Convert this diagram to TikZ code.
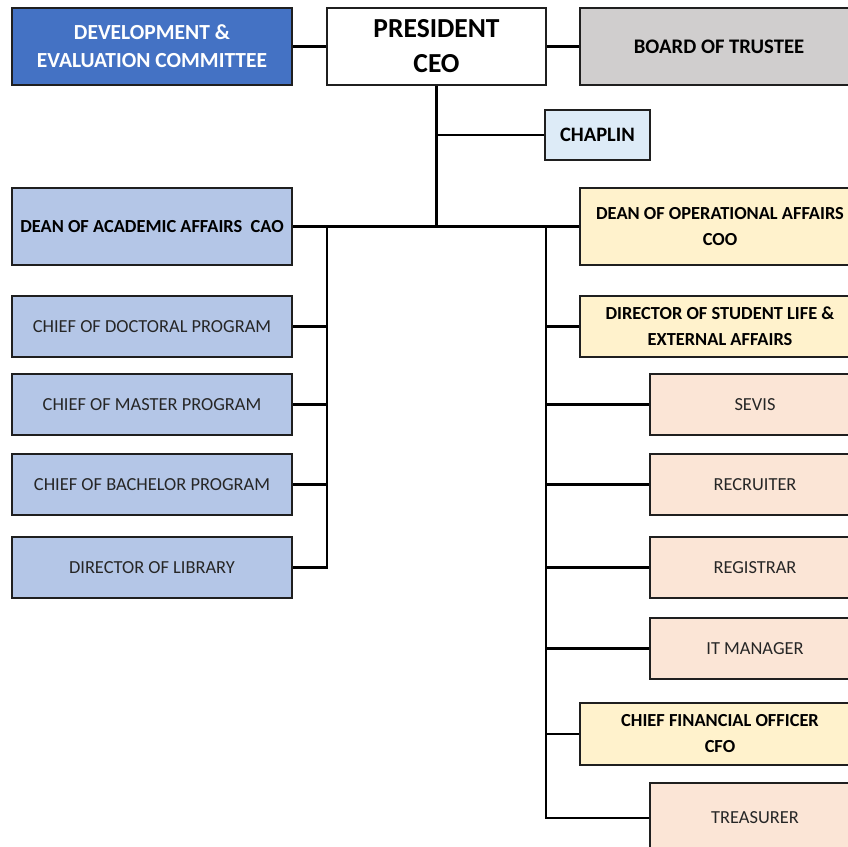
\documentclass[tikz,border=0pt]{standalone}
\usepackage{fontspec}
\setmainfont{Carlito}
\definecolor{devblue}{HTML}{4472C4}
\definecolor{lblue}{HTML}{B4C6E7}
\definecolor{chapl}{HTML}{DDEBF7}
\definecolor{bgray}{HTML}{D0CECE}
\definecolor{lyel}{HTML}{FFF2CC}
\definecolor{lpink}{HTML}{FBE5D6}
\definecolor{txt}{HTML}{262626}
\begin{document}
\begin{tikzpicture}[x=1pt,y=-1pt,
  box/.style={draw=black!88, line width=2.4pt, inner sep=0pt, align=center, font=\fontsize{18.4}{26}\selectfont, text=txt},
  bbox/.style={box, font=\fontsize{18.4}{26}\selectfont\bfseries, text=black},
  con/.style={line width=2.2pt, black}]
\useasboundingbox (0,0) rectangle (848,846);
\clip (0,0) rectangle (848,846);
\fill[white] (0,0) rectangle (848,846);
% top row
\node[bbox, fill=devblue, text=white, font=\fontsize{21.5}{28}\selectfont\bfseries, minimum width=280, minimum height=77] (dev) at (152,46.5) {DEVELOPMENT \&\\EVALUATION COMMITTEE};
\node[box, fill=white, text=black, font=\fontsize{27.5}{35}\selectfont\bfseries, minimum width=219, minimum height=77] (pres) at (436.5,46.5) {PRESIDENT\\CEO};
\node[bbox, fill=bgray, font=\fontsize{20.7}{26}\selectfont\bfseries, minimum width=278, minimum height=77] (board) at (719,46.5) {BOARD OF TRUSTEE};
\node[bbox, fill=chapl, font=\fontsize{20.5}{26}\selectfont\bfseries, minimum width=105, minimum height=50] (chap) at (597.5,135) {CHAPLIN};
% left column
\node[bbox, fill=lblue, minimum width=280, minimum height=77] (cao) at (152,226.5) {DEAN OF ACADEMIC AFFAIRS\ \ CAO};
\node[box, fill=lblue, minimum width=280, minimum height=61] (doc) at (152,326.5) {CHIEF OF DOCTORAL PROGRAM};
\node[box, fill=lblue, minimum width=280, minimum height=61] (mas) at (152,404.5) {CHIEF OF MASTER PROGRAM};
\node[box, fill=lblue, minimum width=280, minimum height=61] (bac) at (152,484.5) {CHIEF OF BACHELOR PROGRAM};
\node[box, fill=lblue, minimum width=280, minimum height=61] (lib) at (152,567.5) {DIRECTOR OF LIBRARY};
% right column
\node[bbox, fill=lyel, minimum width=280, minimum height=77] (coo) at (720,226.5) {DEAN OF OPERATIONAL AFFAIRS\\COO};
\node[bbox, fill=lyel, minimum width=280, minimum height=61] (dsl) at (720,326.5) {DIRECTOR OF STUDENT LIFE \&\\EXTERNAL AFFAIRS};
\node[box, fill=lpink, minimum width=210, minimum height=61] (sev) at (755,404.5) {SEVIS};
\node[box, fill=lpink, minimum width=210, minimum height=61] (rec) at (755,484.5) {RECRUITER};
\node[box, fill=lpink, minimum width=210, minimum height=61] (reg) at (755,567.5) {REGISTRAR};
\node[box, fill=lpink, minimum width=210, minimum height=61] (itm) at (755,648.5) {IT MANAGER};
\node[bbox, fill=lyel, minimum width=280, minimum height=62] (cfo) at (720,734) {CHIEF FINANCIAL OFFICER\\CFO};
\node[box, fill=lpink, minimum width=210, minimum height=70] (tre) at (755,818) {TREASURER};
% junction coordinates
\coordinate (jc) at (pres.south |- cao.east);
\coordinate (jchap) at (pres.south |- chap.west);
\coordinate (jl) at (327,226.5);
\coordinate (jr) at (546,226.5);
% connectors
\draw[con] (dev.east) -- (pres.west);
\draw[con] (pres.east) -- (board.west);
\draw[con] (pres.south) -- (jc);
\draw[con] (jchap) -- (chap.west);
\draw[con] (cao.east) -- (coo.west);
\draw[con] (jl) |- (lib.east);
\draw[con] (doc.east) -- (doc.east -| jl);
\draw[con] (mas.east) -- (mas.east -| jl);
\draw[con] (bac.east) -- (bac.east -| jl);
\draw[con] (jr) |- (tre.west);
\draw[con] (dsl.west) -- (dsl.west -| jr);
\draw[con] (sev.west) -- (sev.west -| jr);
\draw[con] (rec.west) -- (rec.west -| jr);
\draw[con] (reg.west) -- (reg.west -| jr);
\draw[con] (itm.west) -- (itm.west -| jr);
\draw[con] (cfo.west) -- (cfo.west -| jr);
\end{tikzpicture}
\end{document}
